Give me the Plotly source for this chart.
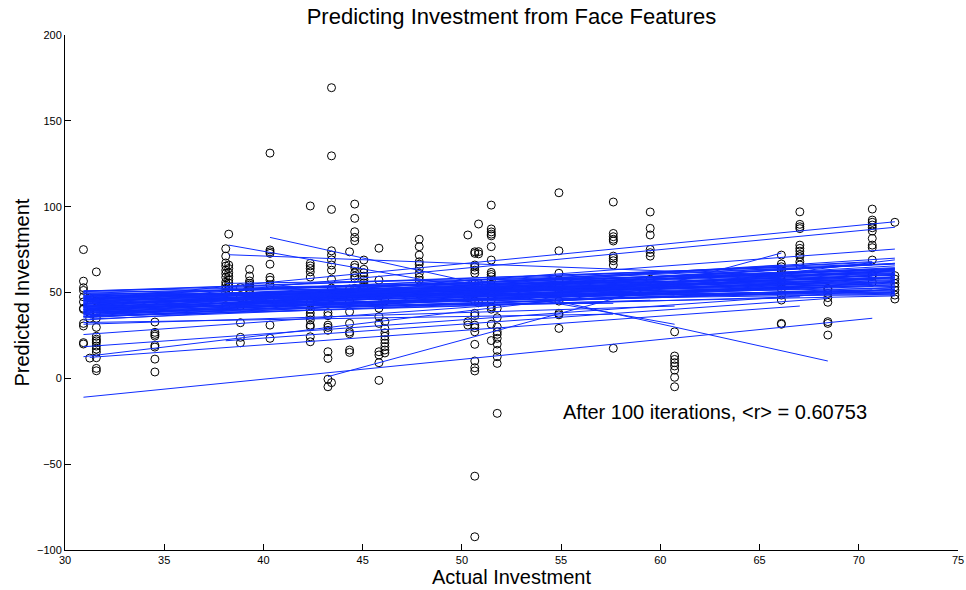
import plotly.graph_objects as go

# Observed (actual) investment levels and the predicted values at each level
actual_levels = [30.93, 31.25, 31.58, 34.53, 38.10, 38.25, 38.84, 39.30, 40.33, 42.36,
                 43.25, 43.43, 44.34, 44.60, 45.06, 45.82, 46.12, 47.85, 50.30, 50.65,
                 50.84, 51.48, 51.78, 54.89, 57.63, 59.49, 60.72, 66.10, 67.03, 68.44,
                 70.68, 71.82]

predicted_by_level = [
    [75.0, 56.6, 52.8, 51.2, 47.5, 44.5, 40.8, 40.2, 32.0, 30.5, 20.8, 20.0],
    [46.8, 38.2, 35.0, 11.8],
    [62.0, 45.0, 38.3, 35.0, 29.7, 24.5, 22.8, 21.8, 20.7, 18.8, 17.0, 15.3, 12.0, 5.8, 4.4],
    [32.8, 26.8, 25.6, 24.6, 19.2, 18.2, 11.2, 3.7],
    [75.5, 71.2, 67.2, 65.4, 63.0, 61.0, 58.8, 56.0, 54.3, 52.4, 49.9, 42.3],
    [84.0, 66.0, 64.0, 61.5, 59.5, 57.5, 55.5, 53.3, 51.4],
    [52.9, 47.0, 42.2, 32.4, 23.9, 20.7],
    [63.5, 59.6, 56.7, 55.3, 54.3, 53.2, 52.2, 51.2, 47.0, 45.6],
    [131.2, 74.8, 73.7, 72.8, 66.5, 58.8, 57.2, 54.5, 46.0, 31.0, 23.3],
    [100.4, 67.0, 65.5, 64.0, 62.0, 59.0, 44.0, 40.2, 38.0, 36.0, 34.0, 31.0, 30.0, 24.2, 21.3],
    [38.2, 36.5, 31.0, 29.7, 28.0, 15.5, 11.6, -0.5, -4.9],
    [169.3, 129.6, 98.4, 74.3, 71.8, 69.0, 66.0, 63.0, 57.7, 52.6, 47.0, -2.5],
    [73.7, 52.0, 45.0, 38.8, 32.0, 27.0, 26.0, 16.5, 15.1],
    [101.5, 93.2, 85.4, 82.1, 80.1, 66.0, 64.5, 61.5, 59.6, 58.2, 52.4],
    [68.9, 63.5, 61.5, 59.5, 57.5, 55.5, 53.5],
    [75.8, 57.2, 48.0, 40.8, 35.9, 32.0, 15.5, 13.6, 9.1, -1.2],
    [45.0, 33.0, 29.0, 26.5, 24.5, 22.5, 20.5, 18.5, 16.5, 14.8],
    [81.0, 76.7, 71.8, 67.9, 66.5, 64.0, 61.2, 58.8, 57.2, 49.0],
    [83.5, 47.0, 33.0, 31.0],
    [73.7, 72.8, 66.0, 64.8, 63.0, 61.2, 55.3, 45.0, 37.9, 36.5, 31.0, 29.5, 27.1, 19.8,
     10.1, 6.2, 4.3, -57.0, -92.3],
    [89.9, 73.8, 72.5, 55.3, 50.1, 44.0],
    [100.9, 87.0, 85.3, 84.0, 83.0, 76.7, 68.9, 61.7, 60.5, 59.2, 57.2, 54.7, 52.8, 48.0,
     45.6, 41.7, 40.3, 31.5, 22.0],
    [40.8, 35.3, 30.0, 27.1, 25.6, 23.3, 20.0, 16.3, 12.6, 8.7, -20.4],
    [108.1, 74.3, 61.2, 57.2, 53.0, 50.0, 45.0, 37.9, 37.0, 29.1],
    [102.7, 84.4, 82.5, 81.0, 80.0, 71.2, 69.9, 68.5, 66.0, 17.5],
    [96.9, 87.4, 83.5, 75.1, 73.2, 71.2, 57.7],
    [27.1, 13.0, 11.0, 9.1, 7.2, 4.8, 0.6, -4.9],
    [71.8, 66.6, 65.0, 63.5, 62.7, 60.0, 57.2, 55.0, 52.0, 48.5, 45.6, 32.0, 31.5],
    [97.0, 89.7, 88.3, 87.2, 77.6, 75.7, 74.1, 72.2, 70.8, 67.9, 66.0],
    [52.4, 51.5, 49.5, 47.0, 44.3, 33.0, 32.0, 25.2],
    [98.6, 92.2, 90.9, 89.3, 87.7, 85.8, 81.5, 77.6, 76.1, 68.9, 60.6, 59.8, 56.0],
    [90.9, 59.8, 57.8, 55.3, 53.3, 51.4, 48.5, 46.2],
]

# Regression line of each cross-validation iteration: start/end of the fitted segment
fit_x_start = [
    30.93, 40.33, 38.25, 38.25, 30.93, 30.93, 31.58, 30.93, 30.93, 30.93,
    31.25, 30.93, 30.93, 38.10, 30.93, 30.93, 43.25,
    30.93, 30.93, 30.93, 31.25, 30.93, 30.93, 30.93, 31.58, 30.93, 30.93,
    30.93, 30.93, 31.25, 30.93, 30.93, 30.93, 31.58, 30.93, 30.93, 30.93,
    30.93, 31.25, 30.93, 30.93, 30.93, 30.93, 31.58, 30.93, 30.93, 30.93,
    30.93, 31.25, 30.93,
    38.10, 38.10, 38.25, 38.10, 40.33, 40.33, 38.84, 38.10, 40.33, 38.25, 38.10,
    30.93, 30.93, 30.93, 31.25, 30.93, 30.93, 31.58, 30.93, 30.93, 30.93, 31.25, 30.93,
    30.93, 30.93, 31.25, 30.93, 30.93, 31.58, 30.93, 30.93, 30.93, 31.25,
    30.93, 30.93, 30.93, 31.58, 30.93, 30.93, 30.93, 31.25, 30.93, 30.93,
    30.93, 31.58, 30.93, 30.93, 30.93, 31.25, 30.93,
]
fit_y_start = [
    -11.0, 82.1, 77.6, 72.0, 45.4, 43.0, 41.0, 40.0, 39.0, 12.6,
    12.2, 18.4, 25.5, 21.9, 31.5, 32.5, 1.0,
    51.0, 50.2, 49.6, 49.0, 48.4, 47.9, 47.3, 46.8, 46.2, 45.7,
    45.1, 44.6, 44.0, 43.6, 43.1, 42.6, 42.1, 41.7, 41.2, 40.8,
    40.3, 39.8, 39.4, 38.9, 38.4, 37.9, 37.4, 36.9, 36.3, 35.8,
    35.2, 34.6, 34.0,
    55.3, 53.0, 51.5, 49.0, 52.5, 48.5, 47.0, 45.5, 45.0, 43.0, 41.0,
    48.0, 44.5, 41.5, 39.0, 46.5, 42.0, 38.0, 36.0, 50.5, 47.0, 45.0, 40.0,
    50.8, 49.3, 48.7, 48.0, 47.5, 46.9, 46.4, 45.8, 45.3, 44.8,
    44.2, 43.8, 43.3, 42.8, 42.3, 41.9, 41.4, 40.9, 40.5, 39.9,
    39.2, 38.6, 38.1, 37.6, 37.1, 36.5, 35.9,
]
fit_x_end = [
    70.68, 68.44, 60.72, 66.10, 71.82, 71.82, 71.82, 71.82, 71.82, 71.82,
    67.03, 71.82, 71.82, 68.44, 60.72, 57.63, 66.10,
    71.82, 71.82, 70.68, 71.82, 71.82, 68.44, 71.82, 71.82, 71.82, 70.68,
    71.82, 66.10, 71.82, 71.82, 70.68, 71.82, 71.82, 68.44, 71.82, 71.82,
    70.68, 71.82, 67.03, 71.82, 71.82, 70.68, 71.82, 71.82, 68.44, 71.82,
    70.68, 71.82, 71.82,
    71.82, 70.68, 71.82, 68.44, 71.82, 70.68, 66.10, 71.82, 71.82, 70.68, 71.82,
    60.72, 59.49, 57.63, 60.72, 66.10, 66.10, 66.10, 59.49, 66.10, 57.63, 60.72, 66.10,
    70.68, 71.82, 71.82, 71.82, 70.68, 71.82, 71.82, 68.44, 71.82, 71.82,
    70.68, 71.82, 71.82, 70.68, 71.82, 71.82, 68.44, 71.82, 71.82, 70.68,
    71.82, 71.82, 71.82, 70.68, 71.82, 71.82, 67.03,
]
fit_y_end = [
    35.0, 10.1, 31.5, 60.0, 91.2, 88.0, 75.3, 70.0, 67.0, 69.0,
    42.1, 52.0, 59.0, 46.5, 42.1, 37.4, 73.0,
    58.5, 56.0, 61.0, 53.5, 63.5, 57.0, 60.0, 55.0, 58.0, 54.5,
    62.0, 56.0, 59.2, 54.3, 57.5, 61.0, 56.5, 53.0, 64.0, 51.8,
    59.5, 57.5, 52.0, 60.5, 55.5, 53.5, 62.5, 58.5, 50.5, 56.0,
    60.0, 53.0, 59.0,
    61.0, 58.0, 66.5, 55.0, 63.0, 55.5, 52.5, 57.0, 60.5, 51.5, 54.5,
    52.5, 50.0, 43.7, 48.0, 60.5, 66.0, 49.0, 45.5, 64.5, 54.0, 56.5, 58.5,
    66.5, 48.5, 64.0, 50.0, 67.5, 62.5, 49.5, 65.0, 52.5, 63.5,
    68.0, 51.0, 61.5, 66.0, 49.0, 64.5, 53.0, 67.0, 50.5, 62.0,
    65.5, 48.0, 63.0, 66.8, 51.5, 60.5, 47.5,
]

title_text = "Predicting Investment from Face Features"
x_title = "Actual Investment"
y_title = "Predicted Investment"
summary_text = "After 100 iterations, &lt;r&gt; = 0.60753"
x_ticks = [30, 35, 40, 45, 50, 55, 60, 65, 70, 75]
y_ticks = [-100, -50, 0, 50, 100, 150, 200]

assert len(actual_levels) == len(predicted_by_level)
assert len(fit_x_start) == len(fit_y_start) == len(fit_x_end) == len(fit_y_end)

pts_x, pts_y = [], []
for level, preds in zip(actual_levels, predicted_by_level):
    for p in preds:
        pts_x.append(level)
        pts_y.append(p)

seg_x, seg_y = [], []
for xs, ys, xe, ye in zip(fit_x_start, fit_y_start, fit_x_end, fit_y_end):
    seg_x += [xs, xe, None]
    seg_y += [ys, ye, None]

FONT = "Liberation Sans, Arial, Helvetica, sans-serif"

fig = go.Figure()
fig.add_trace(go.Scatter(
    x=pts_x, y=pts_y, mode="markers",
    marker=dict(symbol="circle-open", size=8, color="black",
                line=dict(width=1, color="black")),
    hoverinfo="x+y", showlegend=False,
))
fig.add_trace(go.Scatter(
    x=seg_x, y=seg_y, mode="lines",
    line=dict(color="rgb(15,45,255)", width=1),
    hoverinfo="skip", showlegend=False, connectgaps=False,
))

# In-plot summary of the cross-validated correlation
fig.add_annotation(
    x=55.0, y=-19.6, xref="x", yref="y", xanchor="left", yanchor="middle",
    text=summary_text, showarrow=False,
    font=dict(family=FONT, size=20, color="black"),
)
# Axis titles, placed in paper space
fig.add_annotation(
    x=0.5, y=0, xref="paper", yref="paper", xanchor="center", yanchor="middle",
    yshift=-27, text=x_title, showarrow=False,
    font=dict(family=FONT, size=20, color="black"),
)
fig.add_annotation(
    x=0, y=0.5, xref="paper", yref="paper", xanchor="center", yanchor="middle",
    xshift=-44, textangle=-90, text=y_title, showarrow=False,
    font=dict(family=FONT, size=20, color="black"),
)

fig.update_layout(
    width=966, height=590,
    margin=dict(l=65, r=8, t=35, b=40, autoexpand=False),
    paper_bgcolor="white", plot_bgcolor="white",
    font=dict(family=FONT, color="black"),
    title=dict(text=title_text, x=0.5, xanchor="center", xref="paper",
               y=1 - 16 / 590, yref="container", yanchor="middle",
               font=dict(family=FONT, size=22, color="black")),
)
fig.update_xaxes(
    range=[30, 75], tickvals=x_ticks, ticks="inside", ticklen=6, tickwidth=1,
    tickcolor="black", showline=True, linecolor="black", linewidth=1,
    mirror=False, showgrid=False, zeroline=False, automargin=False,
    tickfont=dict(family=FONT, size=11, color="black"),
)
fig.update_yaxes(
    range=[-100, 200], tickvals=y_ticks, ticks="inside", ticklen=6, tickwidth=1,
    tickcolor="black", showline=True, linecolor="black", linewidth=1,
    mirror=False, showgrid=False, zeroline=False, automargin=False,
    tickfont=dict(family=FONT, size=11, color="black"),
)

fig.write_html("out.html")
